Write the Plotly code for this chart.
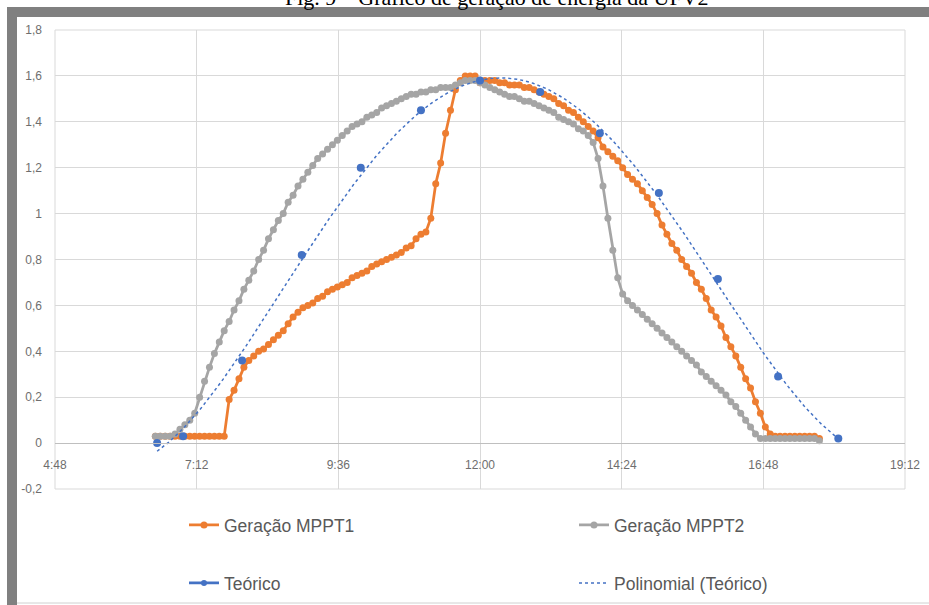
import numpy as np
import plotly.graph_objects as go

# ---------------- data ----------------
title_text = "Fig. 9 – Gráfico de geração de energia da UFV2"

# measured series: start 06:30, one reading every 5 minutes
mppt_start_h = 6.5
mppt_step_min = 5

mppt1 = [0.03, 0.03, 0.03, 0.03, 0.03, 0.03, 0.03, 0.03, 0.03, 0.03,
         0.03, 0.03, 0.03, 0.03, 0.03, 0.19, 0.23, 0.28, 0.33, 0.36,
         0.38, 0.40, 0.41, 0.43, 0.45, 0.47, 0.49, 0.52, 0.55, 0.57,
         0.59, 0.60, 0.61, 0.63, 0.64, 0.66, 0.67, 0.68, 0.69, 0.70,
         0.72, 0.73, 0.74, 0.75, 0.77, 0.78, 0.79, 0.80, 0.81, 0.82,
         0.83, 0.85, 0.86, 0.89, 0.91, 0.92, 0.98, 1.13, 1.22, 1.35,
         1.45, 1.54, 1.58, 1.60, 1.60, 1.60, 1.57, 1.58, 1.58, 1.58,
         1.57, 1.57, 1.56, 1.56, 1.56, 1.55, 1.55, 1.54, 1.53, 1.52,
         1.51, 1.50, 1.48, 1.47, 1.45, 1.44, 1.42, 1.40, 1.38, 1.36,
         1.33, 1.29, 1.27, 1.25, 1.23, 1.20, 1.17, 1.15, 1.13, 1.10,
         1.07, 1.04, 1.00, 0.95, 0.91, 0.87, 0.84, 0.80, 0.77, 0.74,
         0.70, 0.67, 0.63, 0.58, 0.55, 0.51, 0.46, 0.42, 0.38, 0.33,
         0.28, 0.24, 0.18, 0.13, 0.07, 0.04, 0.03, 0.03, 0.03, 0.03,
         0.03, 0.03, 0.03, 0.03, 0.03, 0.02]

mppt2 = [0.03, 0.03, 0.03, 0.03, 0.04, 0.06, 0.08, 0.10, 0.13, 0.20,
         0.27, 0.33, 0.39, 0.44, 0.49, 0.53, 0.58, 0.62, 0.67, 0.71,
         0.75, 0.80, 0.84, 0.89, 0.93, 0.97, 1.00, 1.05, 1.08, 1.12,
         1.15, 1.18, 1.21, 1.24, 1.26, 1.28, 1.30, 1.32, 1.34, 1.36,
         1.38, 1.39, 1.40, 1.42, 1.43, 1.44, 1.46, 1.47, 1.48, 1.49,
         1.50, 1.51, 1.52, 1.52, 1.53, 1.53, 1.54, 1.54, 1.55, 1.55,
         1.55, 1.56, 1.57, 1.58, 1.58, 1.58, 1.57, 1.56, 1.55, 1.54,
         1.53, 1.52, 1.51, 1.51, 1.50, 1.49, 1.49, 1.48, 1.47, 1.46,
         1.45, 1.44, 1.42, 1.41, 1.40, 1.39, 1.37, 1.36, 1.34, 1.31,
         1.24, 1.12, 0.98, 0.84, 0.72, 0.65, 0.62, 0.60, 0.58, 0.56,
         0.54, 0.52, 0.50, 0.48, 0.46, 0.44, 0.42, 0.40, 0.38, 0.36,
         0.34, 0.31, 0.29, 0.27, 0.25, 0.23, 0.21, 0.18, 0.16, 0.13,
         0.10, 0.07, 0.04, 0.02, 0.02, 0.02, 0.02, 0.02, 0.02, 0.02,
         0.02, 0.02, 0.02, 0.02, 0.02, 0.01]

# theoretical values (hours of day, kW)
teo_t = [6.53, 6.97, 7.97, 8.98, 9.98, 11.0, 12.0, 13.02, 14.03, 15.03, 16.03, 17.05, 18.07]
teo_v = [0.00, 0.03, 0.36, 0.82, 1.20, 1.45, 1.58, 1.53, 1.35, 1.09, 0.715, 0.29, 0.02]
poly_order = 4

x_tickvals = [4.8, 7.2, 9.6, 12.0, 14.4, 16.8, 19.2]
x_ticktext = ["4:48", "7:12", "9:36", "12:00", "14:24", "16:48", "19:12"]
y_tickvals = [-0.2, 0.0, 0.2, 0.4, 0.6, 0.8, 1.0, 1.2, 1.4, 1.6, 1.8]
y_ticktext = ["-0,2", "0", "0,2", "0,4", "0,6", "0,8", "1", "1,2", "1,4", "1,6", "1,8"]

names = ["Geração MPPT1", "Geração MPPT2", "Teórico", "Polinomial (Teórico)"]

# ---------------- derived ----------------
t1 = [mppt_start_h + i * mppt_step_min / 60 for i in range(len(mppt1))]
t2 = [mppt_start_h + i * mppt_step_min / 60 for i in range(len(mppt2))]
coef = np.polyfit(teo_t, teo_v, poly_order)
tt = np.linspace(teo_t[0], teo_t[-1], 300)
tv = np.polyval(coef, tt)

ORANGE = "#ED7D31"
GRAY = "#A5A5A5"
BLUE = "#4472C4"
FONT = "Liberation Sans"

fig = go.Figure()
fig.add_trace(go.Scatter(x=t1, y=mppt1, mode="lines+markers", name=names[0],
                         line=dict(color=ORANGE, width=2.75),
                         marker=dict(color=ORANGE, size=7), legend="legend"))
fig.add_trace(go.Scatter(x=t2, y=mppt2, mode="lines+markers", name=names[1],
                         line=dict(color=GRAY, width=2.75),
                         marker=dict(color=GRAY, size=7), legend="legend2"))
fig.add_trace(go.Scatter(x=teo_t, y=teo_v, mode="markers", name=names[2],
                         marker=dict(color=BLUE, size=8), showlegend=False))
fig.add_trace(go.Scatter(x=[None], y=[None], mode="lines+markers", name=names[2],
                         line=dict(color=BLUE, width=2.75),
                         marker=dict(color=BLUE, size=6), legend="legend3"))
fig.add_trace(go.Scatter(x=tt, y=tv, mode="lines", name=names[3],
                         line=dict(color=BLUE, width=1.5, dash="dot"), legend="legend4"))

W, H = 929, 605
ml, mr, mt, mb = 55, 24, 30, 116
pw, ph = W - ml - mr, H - mt - mb


def px(x):
    return (x - ml) / pw


def py(y):
    return (H - mb - y) / ph


leg_common = dict(orientation="h", xanchor="left", yanchor="middle",
                  font=dict(family=FONT, size=17.5, color="#595959"),
                  bgcolor="rgba(0,0,0,0)", itemwidth=30)

fig.update_layout(
    width=W, height=H,
    margin=dict(l=ml, r=mr, t=mt, b=mb, autoexpand=False),
    paper_bgcolor="white", plot_bgcolor="white",
    font=dict(family=FONT, color="#6e6e6e", size=12),
    showlegend=True,
    legend=dict(x=px(184), y=py(525), **leg_common),
    legend2=dict(x=px(574), y=py(525), **leg_common),
    legend3=dict(x=px(184), y=py(583), **leg_common),
    legend4=dict(x=px(574), y=py(583), **leg_common),
    xaxis=dict(range=[4.8, 19.2], tickvals=x_tickvals, ticktext=x_ticktext,
               showgrid=True, gridcolor="#d9d9d9", gridwidth=1,
               zeroline=False, anchor="free", position=0.1,
               showline=True, linecolor="#bfbfbf", linewidth=1,
               ticks="", ticklabelstandoff=10,
               tickfont=dict(family=FONT, size=12, color="#6e6e6e")),
    yaxis=dict(range=[-0.2, 1.8], tickvals=y_tickvals, ticktext=y_ticktext,
               showgrid=True, gridcolor="#d9d9d9", gridwidth=1,
               zeroline=False, showline=False, ticks="", ticklabelstandoff=12,
               tickfont=dict(family=FONT, size=12, color="#6e6e6e")),
    shapes=[
        dict(type="rect", xref="paper", yref="paper", x0=0, x1=1, y0=0, y1=1,
             line=dict(color="#d9d9d9", width=1), layer="below"),
        dict(type="rect", xref="paper", yref="paper", x0=px(7), x1=px(W + 5),
             y0=py(17), y1=py(7), fillcolor="#808080", line=dict(width=0), layer="above"),
        dict(type="rect", xref="paper", yref="paper", x0=px(7), x1=px(17),
             y0=py(H + 5), y1=py(7), fillcolor="#808080", line=dict(width=0), layer="above"),
        dict(type="line", xref="paper", yref="paper", x0=px(17), x1=px(W),
             y0=py(603), y1=py(603), line=dict(color="#d0d0d0", width=1)),
    ],
    annotations=[
        dict(text=title_text, xref="paper", yref="paper", x=px(497), y=py(12),
             xanchor="center", yanchor="bottom", showarrow=False,
             font=dict(family="Liberation Serif", size=22, color="black")),
    ],
)

fig.write_html("out.html")
